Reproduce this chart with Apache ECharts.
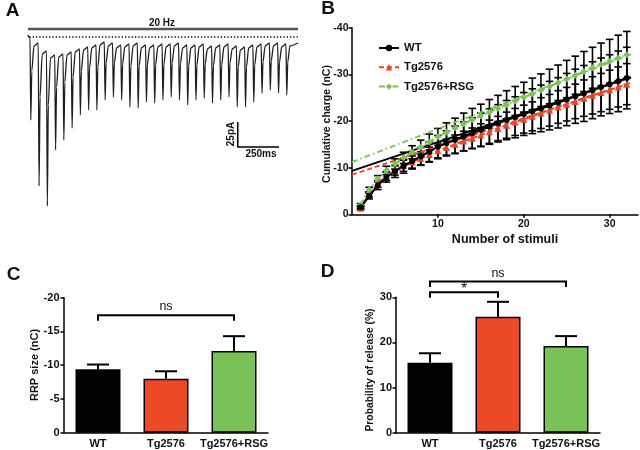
<!DOCTYPE html>
<html><head><meta charset="utf-8">
<script src="https://cdn.jsdelivr.net/npm/echarts@6/dist/echarts.min.js"></script>
<style>html,body{margin:0;padding:0;background:#fff}#c{width:640px;height:450px}</style>
</head><body><div id="c"></div>
<script>
// ---------- Panel A: 20 Hz train trace (pA vs ms) ----------
const pulseInterval = 50;      // ms, 20 Hz
const firstPulse = 12;         // ms
const traceStart = [[0, 2], [4, 0]];
const tracePeaks = [0, -6, -14, -18, -17, -15, -12, -10, -8, -5, -6, -8, -7, -6, -8, -8, -7, -7, -6, -8, -8, -7, -9, -8, -7, -9, -10, -8, -7, -6, -6, -7];
const traceTroughs = [-83, -149, -169, -113, -103, -91, -78, -73, -73, -63, -60, -63, -70, -71, -65, -66, -63, -60, -63, -68, -63, -61, -66, -63, -60, -70, -70, -65, -56, -53, -56, -58];
const traceShoulders = [-34, -60, -68, -50, -45, -40, -34, -31, -30, -26, -26, -27, -29, -29, -28, -28, -27, -26, -27, -29, -28, -27, -29, -28, -26, -30, -30, -28, -25, -24, -25, -25];
const traceLate = [-9, -17, -21, -20, -18, -15, -13, -11, -8, -9, -11, -10, -9, -11, -11, -10, -10, -9, -11, -11, -10, -12, -11, -10, -12, -13, -11, -10, -9, -9, -10, -9];
const traceEndPoint = [1635, -6];
const hzBar = [[0, 8], [1635, 8]];
const baseline = [[8, 0], [1635, 0]];
const scaleBar = [[1270, -85], [1270, -110], [1520, -110]];

// ---------- Panel B: cumulative charge ----------
const stimuli = [1, 2, 3, 4, 5, 6, 7, 8, 9, 10, 11, 12, 13, 14, 15, 16, 17, 18, 19, 20, 21, 22, 23, 24, 25, 26, 27, 28, 29, 30, 31, 32];
const wtMean = [-1.5, -3.9, -6.2, -8.0, -9.2, -10.3, -11.4, -12.4, -13.4, -14.5, -15.3, -16.0, -16.7, -17.4, -18.1, -18.8, -19.5, -20.2, -20.8, -21.5, -22.1, -22.7, -23.3, -23.9, -24.6, -25.3, -25.9, -26.6, -27.3, -27.9, -28.5, -29.2];
const wtSem = [0.3, 0.6, 0.9, 1.1, 1.3, 1.5, 1.7, 1.9, 2.1, 2.4, 2.6, 2.9, 3.1, 3.3, 3.6, 3.8, 4.0, 4.2, 4.4, 4.6, 4.8, 5.0, 5.2, 5.4, 5.6, 5.8, 6.0, 6.1, 6.2, 6.3, 6.5, 6.6];
const tgMean = [-1.3, -4.3, -6.5, -8.2, -9.4, -10.4, -11.2, -12.0, -12.8, -13.6, -14.3, -15.0, -15.7, -16.3, -17.0, -17.7, -18.4, -19.1, -19.8, -20.4, -21.0, -21.7, -22.3, -23.0, -23.6, -24.2, -24.9, -25.5, -26.1, -26.7, -27.3, -27.9];
const tgSem = [0.3, 0.5, 0.7, 0.9, 1.0, 1.2, 1.3, 1.4, 1.6, 1.7, 1.8, 2.0, 2.1, 2.2, 2.4, 2.5, 2.6, 2.8, 2.9, 3.0, 3.1, 3.3, 3.4, 3.5, 3.6, 3.7, 3.9, 4.0, 4.1, 4.2, 4.3, 4.4];
const rsgMean = [-2.0, -5.3, -7.6, -9.4, -10.8, -12.1, -13.3, -14.4, -15.5, -16.6, -17.6, -18.5, -19.4, -20.3, -21.1, -21.9, -22.7, -23.5, -24.3, -25.1, -25.8, -26.6, -27.4, -28.2, -29.0, -29.8, -30.6, -31.4, -32.1, -32.8, -33.5, -34.2];
const rsgSem = [0.3, 0.5, 0.7, 0.9, 1.1, 1.2, 1.4, 1.5, 1.7, 1.8, 2.0, 2.1, 2.3, 2.4, 2.5, 2.7, 2.8, 3.0, 3.1, 3.2, 3.4, 3.5, 3.7, 3.8, 4.0, 4.1, 4.3, 4.4, 4.6, 4.7, 4.9, 5.0];
const wtFit = [[0, -9.3], [32.5, -29.4]];
const tgFit = [[0, -8.5], [32.5, -28.2]];
const rsgFit = [[0, -11.2], [32.5, -34.3]];
const bXTicks = [10, 20, 30];

// ---------- Panels C & D ----------
const groups = ['WT', 'Tg2576', 'Tg2576+RSG'];
const rrpMean = [-9.4, -8.0, -12.1];
const rrpSem = [0.7, 1.1, 2.2];
const prMean = [15.5, 25.7, 19.2];
const prSem = [2.1, 3.3, 2.2];
// brackets: [fromIndex, toIndex, level, tickEnd, labelLevel]
const rrpBrackets = [[0, 2, -17.4, -16.6, -18.7]];
const rrpBracketLabels = ['ns'];
const prBrackets = [[0, 1, 31.1, 29.9, 31.7], [0, 2, 33.5, 32.3, 35.3]];
const prBracketLabels = ['*', 'ns'];

const groupColors = ['#000000', '#EC4A27', '#79C257'];
const RED = '#E8462A', GREEN = '#7CC35A';
const FONT = '"Liberation Sans", Arial, Helvetica, sans-serif';

// build trace
const trace = traceStart.slice();
tracePeaks.forEach((p, i) => {
  const t0 = firstPulse + i * pulseInterval;
  trace.push([t0, p], [t0 + 5, traceTroughs[i]], [t0 + 11, traceShoulders[i]], [t0 + 24, traceLate[i]]);
});
trace.push(traceEndPoint);

const axLine = {show: true, onZero: false, lineStyle: {color: '#000', width: 1.5}};
const axTick = {show: true, length: 3.5, lineStyle: {color: '#000', width: 1.5}};
function lbl(size, margin) { return {fontFamily: FONT, fontWeight: 'bold', fontSize: size, color: '#111', margin: margin}; }

function errBarRender(half, lw) {
  return function (params, api) {
    const x = api.value(0), m = api.value(1), s = api.value(2);
    const a = api.coord([x, m - s]), b = api.coord([x, m + s]);
    const st = {stroke: '#000', lineWidth: lw};
    return {type: 'group', children: [
      {type: 'line', shape: {x1: a[0], y1: a[1], x2: b[0], y2: b[1]}, style: st},
      {type: 'line', shape: {x1: a[0] - half, y1: a[1], x2: a[0] + half, y2: a[1]}, style: st},
      {type: 'line', shape: {x1: b[0] - half, y1: b[1], x2: b[0] + half, y2: b[1]}, style: st}
    ]};
  };
}
function barErrRender(params, api) {
  const i = api.value(0), m = api.value(1), s = api.value(2);
  const end = m + (m < 0 ? -s : s);
  const a = api.coord([i, m]), b = api.coord([i, end]);
  const st = {stroke: '#000', lineWidth: 2};
  return {type: 'group', children: [
    {type: 'line', shape: {x1: a[0], y1: a[1], x2: b[0], y2: b[1]}, style: st},
    {type: 'line', shape: {x1: b[0] - 11, y1: b[1], x2: b[0] + 11, y2: b[1]}, style: st}
  ]};
}
function bracketRender(labels, fontSizes) {
  return function (params, api) {
    const a = api.value(0), b = api.value(1), lv = api.value(2), te = api.value(3), tl = api.value(4);
    const p1 = api.coord([a, te]), p2 = api.coord([a, lv]), p3 = api.coord([b, lv]), p4 = api.coord([b, te]);
    const pt = api.coord([a, tl]);
    const fs = fontSizes[params.dataIndex];
    return {type: 'group', children: [
      {type: 'polyline', shape: {points: [p1, p2, p3, p4]}, style: {stroke: '#000', lineWidth: 2, fill: null}},
      {type: 'text', x: (p2[0] + p3[0]) / 2, y: pt[1],
       style: {text: labels[params.dataIndex], fill: '#111', font: fs + 'px ' + FONT, align: 'center', verticalAlign: 'middle'}}
    ]};
  };
}

function txt(x, y, text, size, rot, weight) {
  return {type: 'text', x: x, y: y, rotation: rot || 0,
    style: {text: text, fill: '#111', font: (weight || 'bold') + ' ' + size + 'px ' + FONT, align: 'center', verticalAlign: 'middle'}};
}

const option = {
  animation: false,
  backgroundColor: '#fff',
  grid: [
    {left: 28, top: 27, width: 270, height: 185, outerBoundsMode: 'none'},
    {left: 352, top: 27.7, width: 286, height: 186.6, outerBoundsMode: 'none'},
    {left: 64, top: 297.7, width: 204, height: 135, outerBoundsMode: 'none'},
    {left: 396, top: 297.3, width: 204, height: 135.4, outerBoundsMode: 'none'}
  ],
  xAxis: [
    {type: 'value', gridIndex: 0, min: 0, max: 1635, show: false},
    {type: 'value', gridIndex: 1, min: 0, max: 33.3, interval: 10, axisLine: axLine,
     axisTick: Object.assign({customValues: bXTicks}, axTick), splitLine: {show: false},
     axisLabel: Object.assign({customValues: bXTicks, formatter: v => (v % 10 === 0 && v > 0) ? String(v) : ''}, lbl(10.5, 4.5))},
    {type: 'category', gridIndex: 2, data: groups, axisLine: axLine, axisTick: {show: false}, axisLabel: Object.assign({interval: 0, hideOverlap: false}, lbl(11, 5.5))},
    {type: 'category', gridIndex: 3, data: groups, axisLine: axLine, axisTick: {show: false}, axisLabel: Object.assign({interval: 0, hideOverlap: false}, lbl(11, 5.5))}
  ],
  yAxis: [
    {type: 'value', gridIndex: 0, min: -175, max: 10, show: false},
    {type: 'value', gridIndex: 1, min: -40, max: 0, interval: 10, inverse: true, axisLine: axLine, axisTick: axTick, splitLine: {show: false}, axisLabel: lbl(10.5, 3.5)},
    {type: 'value', gridIndex: 2, min: -20, max: 0, interval: 5, inverse: true, axisLine: axLine, axisTick: axTick, splitLine: {show: false}, axisLabel: lbl(11, 4.5)},
    {type: 'value', gridIndex: 3, min: 0, max: 30, interval: 10, axisLine: axLine, axisTick: axTick, splitLine: {show: false}, axisLabel: lbl(11, 4)}
  ],
  legend: {
    data: ['WT', 'Tg2576', 'Tg2576+RSG'], orient: 'vertical', left: 373, top: 37.5,
    itemWidth: 20, itemHeight: 8, itemGap: 8.3, selectedMode: false,
    textStyle: {fontFamily: FONT, fontWeight: 'bold', fontSize: 11.3, color: '#111', lineHeight: 8}
  },
  series: [
    // Panel A
    {type: 'line', xAxisIndex: 0, yAxisIndex: 0, data: hzBar, showSymbol: false, lineStyle: {color: '#555', width: 2.5}},
    {type: 'line', xAxisIndex: 0, yAxisIndex: 0, data: baseline, showSymbol: false, lineStyle: {color: '#000', width: 1.3, type: [1.3, 2]}},
    {type: 'line', xAxisIndex: 0, yAxisIndex: 0, data: trace, showSymbol: false, smooth: 0.25, smoothMonotone: 'x', lineStyle: {color: '#1e1e1e', width: 1.3}},
    {type: 'line', xAxisIndex: 0, yAxisIndex: 0, data: scaleBar, showSymbol: false, lineStyle: {color: '#000', width: 1.6}},
    // Panel B error bars
    {type: 'custom', xAxisIndex: 1, yAxisIndex: 1, renderItem: errBarRender(3.8, 1.6), data: stimuli.map((n, i) => [n, tgMean[i], tgSem[i]]), z: 1},
    {type: 'custom', xAxisIndex: 1, yAxisIndex: 1, renderItem: errBarRender(3.8, 1.6), data: stimuli.map((n, i) => [n, rsgMean[i], rsgSem[i]]), z: 1},
    {type: 'custom', xAxisIndex: 1, yAxisIndex: 1, renderItem: errBarRender(3.8, 1.6), data: stimuli.map((n, i) => [n, wtMean[i], wtSem[i]]), z: 1},
    // fits
    {name: 'WT fit', type: 'line', xAxisIndex: 1, yAxisIndex: 1, data: wtFit, showSymbol: false, lineStyle: {color: '#000', width: 1.8}, z: 2},
    {name: 'Tg fit', type: 'line', xAxisIndex: 1, yAxisIndex: 1, data: tgFit, showSymbol: false, lineStyle: {color: RED, width: 1.8, type: [5, 3]}, z: 2},
    {name: 'RSG fit', type: 'line', xAxisIndex: 1, yAxisIndex: 1, data: rsgFit, showSymbol: false, lineStyle: {color: GREEN, width: 1.8, type: [6, 3, 1.5, 3]}, z: 2},
    // data
    {name: 'Tg2576', type: 'line', xAxisIndex: 1, yAxisIndex: 1, data: stimuli.map((n, i) => [n, tgMean[i]]), symbol: 'triangle', symbolSize: 7,
     lineStyle: {color: RED, width: 2.2, type: [5, 3]}, itemStyle: {color: RED}, z: 3},
    {name: 'Tg2576+RSG', type: 'line', xAxisIndex: 1, yAxisIndex: 1, data: stimuli.map((n, i) => [n, rsgMean[i]]), symbol: 'diamond', symbolSize: 7,
     lineStyle: {color: GREEN, width: 2.2, type: [6, 3, 1.5, 3]}, itemStyle: {color: GREEN}, z: 3},
    {name: 'WT', type: 'line', xAxisIndex: 1, yAxisIndex: 1, data: stimuli.map((n, i) => [n, wtMean[i]]), symbol: 'circle', symbolSize: 6,
     lineStyle: {color: '#000', width: 2.2}, itemStyle: {color: '#000'}, z: 3},
    // Panel C
    {type: 'bar', xAxisIndex: 2, yAxisIndex: 2, barWidth: 45, data: rrpMean.map((v, i) => ({value: v, itemStyle: {color: groupColors[i]}})),
     itemStyle: {borderColor: '#000', borderWidth: 1.5}},
    {type: 'custom', xAxisIndex: 2, yAxisIndex: 2, renderItem: barErrRender, data: rrpMean.map((v, i) => [i, v, rrpSem[i]])},
    {type: 'custom', xAxisIndex: 2, yAxisIndex: 2, renderItem: bracketRender(rrpBracketLabels, [12.5]), data: rrpBrackets, clip: false},
    // Panel D
    {type: 'bar', xAxisIndex: 3, yAxisIndex: 3, barWidth: 45, data: prMean.map((v, i) => ({value: v, itemStyle: {color: groupColors[i]}})),
     itemStyle: {borderColor: '#000', borderWidth: 1.5}},
    {type: 'custom', xAxisIndex: 3, yAxisIndex: 3, renderItem: barErrRender, data: prMean.map((v, i) => [i, v, prSem[i]])},
    {type: 'custom', xAxisIndex: 3, yAxisIndex: 3, renderItem: bracketRender(prBracketLabels, [16, 12.5]), data: prBrackets, clip: false}
  ],
  graphic: [
    txt(12.5, 11, 'A', 19), txt(328, 9, 'B', 19), txt(13.5, 274.5, 'C', 19), txt(327.5, 271.5, 'D', 19),
    txt(162, 23.5, '20 Hz', 10),
    txt(231.5, 134, '25pA', 10, Math.PI / 2),
    txt(261, 154, '250ms', 10),
    txt(327, 124, 'Cumulative charge (nC)', 10.5, Math.PI / 2),
    txt(505, 240, 'Number of stimuli', 12.5),
    txt(35.3, 365, 'RRP size (nC)', 11, Math.PI / 2),
    txt(370, 370, 'Probability of release (%)', 10.3, Math.PI / 2)
  ]
};
const chart = echarts.init(document.getElementById('c'), null, {renderer: 'canvas'});
chart.setOption(option);
</script></body></html>
